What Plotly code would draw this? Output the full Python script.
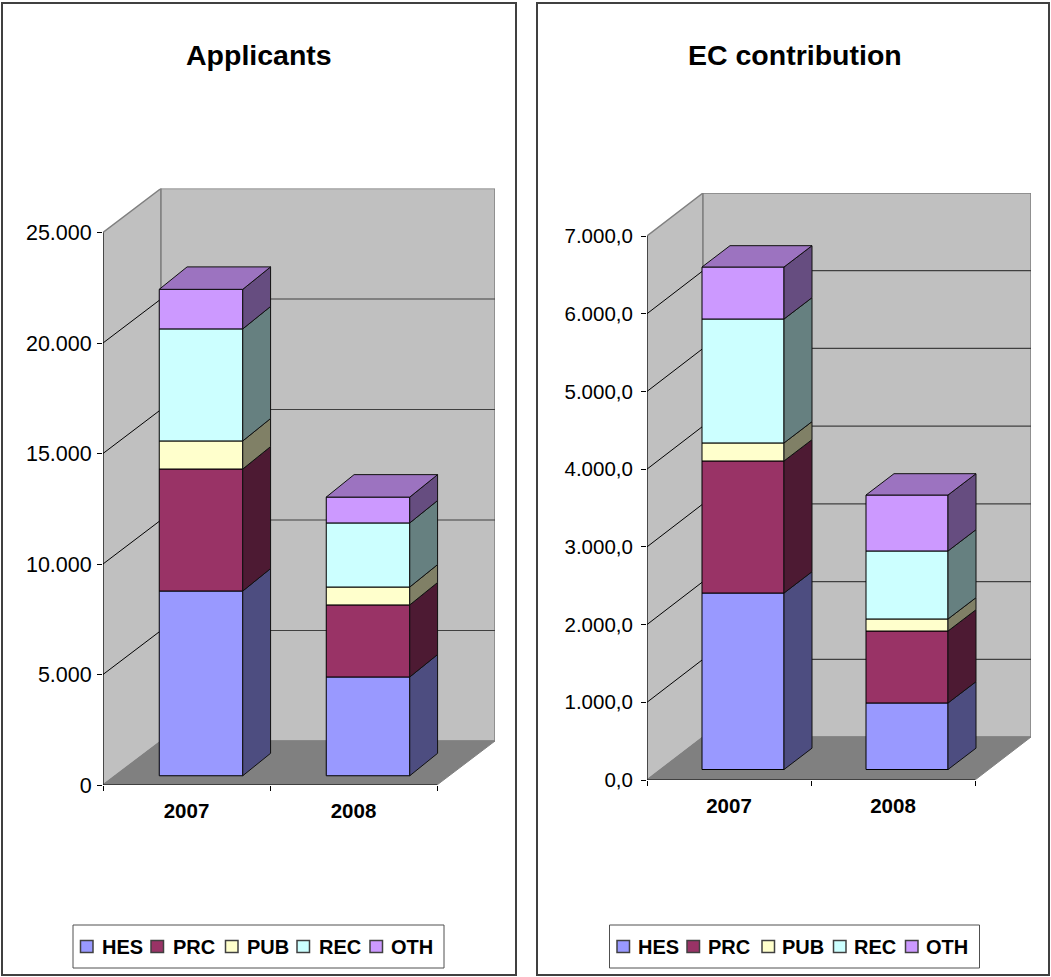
import plotly.graph_objects as go

# ---------- data ----------
YEARS = ["2007", "2008"]
SERIES = ["HES", "PRC", "PUB", "REC", "OTH"]
APPLICANTS = {
    "HES": [8360, 4470],
    "PRC": [5520, 3260],
    "PUB": [1270, 810],
    "REC": [5070, 2900],
    "OTH": [1790, 1170],
}
EC_CONTRIBUTION = {
    "HES": [2271.0, 856.0],
    "PRC": [1699.0, 926.0],
    "PUB": [232.0, 155.0],
    "REC": [1595.0, 875.0],
    "OTH": [669.0, 720.0],
}
APPLICANT_TICKS = [0, 5000, 10000, 15000, 20000, 25000]
APPLICANT_LABELS = ["0", "5.000", "10.000", "15.000", "20.000", "25.000"]
EC_TICKS = [0, 1000, 2000, 3000, 4000, 5000, 6000, 7000]
EC_LABELS = ["0,0", "1.000,0", "2.000,0", "3.000,0", "4.000,0", "5.000,0", "6.000,0", "7.000,0"]

# ---------- style ----------
FRONT = {"HES": "#9999FF", "PRC": "#993366", "PUB": "#FFFFCC", "REC": "#CCFFFF", "OTH": "#CC99FF"}
SIDE = {"HES": "#4D4D80", "PRC": "#4D1A33", "PUB": "#808066", "REC": "#668080", "OTH": "#664D80"}
TOP = {"HES": "#7A7ACC", "PRC": "#7A2952", "PUB": "#CCCCA3", "REC": "#A3CCCC", "OTH": "#9C73C0"}
FONT = "Liberation Sans, Arial, sans-serif"
W, H = 1051, 977

PANELS = [
    dict(id="", title="Applicants", cx=259, data=APPLICANTS, ticks=APPLICANT_TICKS, labels=APPLICANT_LABELS,
         x0=103, y0=785, cat=167, h=552.5, dx=58, dy=44, fy=0.21, by=0.72, bx=0.73, tickfont=21.5, standoff=1,
         frame=(2, 3, 516, 975), box=(73, 925, 444, 968),
         swatch=[80.5, 151, 225.5, 297, 370], text=[100, 170.5, 244.5, 316.5, 388.5]),
    dict(id="2", title="EC contribution", cx=795, data=EC_CONTRIBUTION, ticks=EC_TICKS, labels=EC_LABELS,
         x0=647, y0=780, cat=164, h=544, dx=56, dy=43, fy=0.244, by=0.74, bx=0.75, tickfont=20.5, standoff=4,
         frame=(537, 3, 1049, 975), box=(609.5, 925, 979.5, 968),
         swatch=[617, 687, 762, 833.5, 905.5], text=[635.5, 705.5, 780, 852, 923.5]),
]

fig = go.Figure()
shapes, annotations = [], []
layout_axes = {}


def path(points):
    return "M" + " L".join(f"{a},{b}" for a, b in points) + " Z"


for p in PANELS:
    xa, ya = "x" + p["id"], "y" + p["id"]
    n = len(YEARS)
    ymax = p["ticks"][-1]
    DX = p["dx"] / p["cat"]
    DY = ymax * p["dy"] / p["h"]

    def proj(x, y, d, dy_frac=None):
        return (x + d * DX, y + (d if dy_frac is None else dy_frac) * DY)

    # panel frame and legend box
    fx0, fy0, fx1, fy1 = p["frame"]
    shapes.append(dict(type="rect", xref="paper", yref="paper", layer="below",
                       x0=fx0 / W, x1=fx1 / W, y0=1 - fy0 / H, y1=1 - fy1 / H,
                       fillcolor="white", line=dict(color="#404040", width=2)))
    bx0, by0, bx1, by1 = p["box"]
    shapes.append(dict(type="rect", xref="paper", yref="paper", layer="below",
                       x0=bx0 / W, x1=bx1 / W, y0=1 - by0 / H, y1=1 - by1 / H,
                       fillcolor="white", line=dict(color="#505050", width=1)))

    # side wall, back wall, floor
    common = dict(type="path", xref=xa, yref=ya, layer="below")
    shapes.append(dict(common, path=path([proj(0, 0, 0), proj(0, ymax, 0), proj(0, ymax, 1), proj(0, 0, 1)]),
                       fillcolor="#C0C0C0", line=dict(color="#808080", width=1.5)))
    shapes.append(dict(common, path=path([proj(0, 0, 1), proj(0, ymax, 1), proj(n, ymax, 1), proj(n, 0, 1)]),
                       fillcolor="#C0C0C0", line=dict(color="#808080", width=1.5)))
    shapes.append(dict(common, path=path([proj(0, 0, 0), proj(n, 0, 0), proj(n, 0, 1), proj(0, 0, 1)]),
                       fillcolor="#808080", line=dict(color="#808080", width=1)))
    # gridlines on walls
    for v in p["ticks"][1:-1]:
        shapes.append(dict(type="line", xref=xa, yref=ya, layer="below",
                           x0=proj(0, v, 0)[0], y0=proj(0, v, 0)[1], x1=proj(0, v, 1)[0], y1=proj(0, v, 1)[1],
                           line=dict(color="#000000", width=1)))
        shapes.append(dict(type="line", xref=xa, yref=ya, layer="below",
                           x0=proj(0, v, 1)[0], y0=proj(0, v, 1)[1], x1=proj(n, v, 1)[0], y1=proj(n, v, 1)[1],
                           line=dict(color="#404040", width=1.2)))

    # stacked 3-D columns: front faces as bars, side and top faces projected from the same values
    fd, bd = 0.25, p["bx"]
    cum = [0.0] * n
    for s in SERIES:
        vals = p["data"][s]
        fig.add_trace(go.Bar(
            x=[i + 0.5 + fd * DX for i in range(n)], y=vals,
            base=[cum[i] + p["fy"] * DY for i in range(n)], width=0.5, name=s,
            customdata=YEARS, hovertemplate=s + " %{customdata}: %{y}<extra></extra>",
            marker=dict(color=FRONT[s], line=dict(color="#000000", width=1)),
            xaxis=xa, yaxis=ya, showlegend=False))
        for i in range(n):
            xr = i + 0.75
            lo, hi = cum[i], cum[i] + vals[i]
            f = [proj(xr, lo, fd, p["fy"]), proj(xr, hi, fd, p["fy"]), proj(xr, hi, bd, p["by"]), proj(xr, lo, bd, p["by"])]
            fig.add_trace(go.Scatter(
                x=[q[0] for q in f] + [f[0][0]], y=[q[1] for q in f] + [f[0][1]],
                mode="lines", fill="toself", fillcolor=SIDE[s], line=dict(color="#101010", width=1),
                xaxis=xa, yaxis=ya, showlegend=False, hoverinfo="skip"))
        cum = [cum[i] + vals[i] for i in range(n)]
    for i in range(n):
        xl, xr = i + 0.25, i + 0.75
        f = [proj(xl, cum[i], fd, p["fy"]), proj(xr, cum[i], fd, p["fy"]), proj(xr, cum[i], bd, p["by"]), proj(xl, cum[i], bd, p["by"])]
        fig.add_trace(go.Scatter(
            x=[q[0] for q in f] + [f[0][0]], y=[q[1] for q in f] + [f[0][1]],
            mode="lines", fill="toself", fillcolor=TOP[SERIES[-1]], line=dict(color="#101010", width=1),
            xaxis=xa, yaxis=ya, showlegend=False, hoverinfo="skip"))

    # axis lines
    fig.add_trace(go.Scatter(x=[0, 0, n], y=[ymax, 0, 0], mode="lines", line=dict(color="#000000", width=1),
                             xaxis=xa, yaxis=ya, showlegend=False, hoverinfo="skip", cliponaxis=False))

    total_w = p["cat"] * n + p["dx"]
    total_h = p["h"] + p["dy"]
    layout_axes["xaxis" + p["id"]] = dict(
        domain=[p["x0"] / W, (p["x0"] + total_w) / W], range=[0, n + DX], anchor=ya,
        tickmode="array", tickvals=[i + 0.5 for i in range(n)], ticktext=YEARS, ticklen=0, ticks="",
        minor=dict(tickmode="array", tickvals=list(range(n + 1)), ticks="outside", ticklen=5, tickcolor="#000000", showgrid=False),
        tickfont=dict(family=FONT, size=20.5, color="#000000", weight="bold"), ticklabelstandoff=11,
        showgrid=False, zeroline=False, showline=False, fixedrange=True)
    layout_axes["yaxis" + p["id"]] = dict(
        domain=[1 - (p["y0"]) / H, 1 - (p["y0"] - total_h) / H], range=[0, ymax + DY], anchor=xa,
        tickmode="array", tickvals=p["ticks"], ticktext=p["labels"], ticks="outside", ticklen=5, tickcolor="#000000",
        tickfont=dict(family=FONT, size=p["tickfont"], color="#000000"), ticklabelstandoff=p["standoff"],
        showgrid=False, zeroline=False, showline=False, fixedrange=True)

    # title
    annotations.append(dict(text=f"<b>{p['title']}</b>", xref="paper", yref="paper", x=p["cx"] / W, y=1 - 55 / H,
                            xanchor="center", yanchor="middle", showarrow=False,
                            font=dict(family=FONT, size=28.5, color="#000000")))
    # legend
    ly = (by0 + by1) / 2
    for s, sx, tx in zip(SERIES, p["swatch"], p["text"]):
        shapes.append(dict(type="rect", xref="paper", yref="paper", x0=sx / W, x1=(sx + 12.5) / W,
                           y0=1 - (ly - 6) / H, y1=1 - (ly + 6) / H, fillcolor=FRONT[s],
                           line=dict(color="#404040", width=1.5)))
        annotations.append(dict(text=f"<b>{s}</b>", xref="paper", yref="paper", x=tx / W, y=1 - ly / H,
                                xanchor="left", yanchor="middle", showarrow=False,
                                font=dict(family=FONT, size=20, color="#000000")))

fig.update_layout(width=W, height=H, margin=dict(l=0, r=0, t=0, b=0, autoexpand=False),
                  paper_bgcolor="white", plot_bgcolor="rgba(0,0,0,0)",
                  barmode="overlay", showlegend=False, shapes=shapes, annotations=annotations, **layout_axes)

fig.write_html("out.html", config=dict(displayModeBar=False),
               post_script="document.body.style.margin='0';document.body.style.overflow='hidden';")
